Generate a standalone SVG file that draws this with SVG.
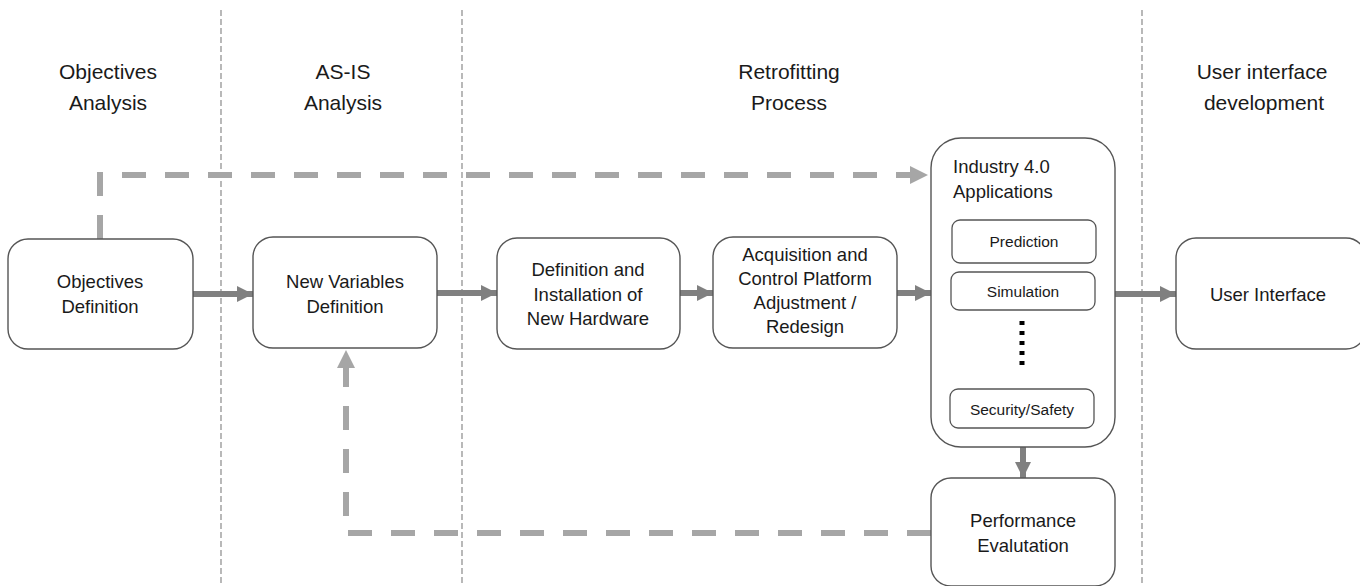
<svg xmlns="http://www.w3.org/2000/svg" width="1360" height="586" viewBox="0 0 1360 586">
<defs>
<style>
.node{fill:#fff;stroke:#555;stroke-width:1.4}
.sub{fill:#fff;stroke:#555;stroke-width:1.3}
.t{font-family:"Liberation Sans",Arial,sans-serif;font-size:18.5px;fill:#1a1a1a;text-anchor:middle}
.h{font-family:"Liberation Sans",Arial,sans-serif;font-size:21px;fill:#1a1a1a;text-anchor:middle}
.s{font-family:"Liberation Sans",Arial,sans-serif;font-size:15.5px;fill:#1a1a1a;text-anchor:middle}
.div{stroke:#8a8a8a;stroke-width:1.2;stroke-dasharray:6 3;fill:none}
.solid{stroke:#808080;stroke-width:6;fill:none}
.dash{stroke:#a6a6a6;stroke-width:6;fill:none;stroke-dasharray:24 19}
</style>
<marker id="ah" markerUnits="userSpaceOnUse" markerWidth="16" markerHeight="16" viewBox="0 0 16 16" refX="16" refY="8" orient="auto">
<path d="M0,0 L16,8 L0,16 Z" fill="#808080"/>
</marker>
<marker id="ahd" markerUnits="userSpaceOnUse" markerWidth="18" markerHeight="18" viewBox="0 0 18 18" refX="18" refY="9" orient="auto">
<path d="M0,0 L18,9 L0,18 Z" fill="#a6a6a6"/>
</marker>
</defs>
<rect width="1360" height="586" fill="#fff"/>
<g id="dividers">
<line class="div" x1="221" y1="10" x2="221" y2="586"/>
<line class="div" x1="462" y1="10" x2="462" y2="586"/>
<line class="div" x1="1142" y1="10" x2="1142" y2="586"/>
</g>
<g id="headers">
<text class="h" x="108" y="79">Objectives</text>
<text class="h" x="108" y="110">Analysis</text>
<text class="h" x="343" y="79">AS-IS</text>
<text class="h" x="343" y="110">Analysis</text>
<text class="h" x="789" y="79">Retrofitting</text>
<text class="h" x="789" y="110">Process</text>
<text class="h" x="1262" y="79">User interface</text>
<text class="h" x="1264" y="110">development</text>
</g>
<g id="connectors">
<line class="solid" x1="193" y1="294" x2="253" y2="294" marker-end="url(#ah)"/>
<line class="solid" x1="437" y1="293" x2="497" y2="293" marker-end="url(#ah)"/>
<line class="solid" x1="680" y1="293" x2="713" y2="293" marker-end="url(#ah)"/>
<line class="solid" x1="897" y1="293" x2="931" y2="293" marker-end="url(#ah)"/>
<line class="solid" x1="1115" y1="294" x2="1176" y2="294" marker-end="url(#ah)"/>
<line class="solid" x1="1023" y1="447" x2="1023" y2="478" marker-end="url(#ah)"/>
<path class="dash" d="M100,239 L100,175 L928,175" marker-end="url(#ahd)" stroke-dashoffset="0"/>
<path class="dash" d="M931,533 L346,533 L346,350" marker-end="url(#ahd)"/>
</g>
<g id="n-objectives">
<rect class="node" x="8" y="239" width="185" height="110" rx="20"/>
<text class="t" x="100" y="288">Objectives</text>
<text class="t" x="100" y="313">Definition</text>
</g>
<g id="n-newvars">
<rect class="node" x="253" y="237" width="184" height="111" rx="20"/>
<text class="t" x="345" y="288">New Variables</text>
<text class="t" x="345" y="313">Definition</text>
</g>
<g id="n-hardware">
<rect class="node" x="497" y="238" width="183" height="111" rx="20"/>
<text class="t" x="588" y="276">Definition and</text>
<text class="t" x="588" y="301">Installation of</text>
<text class="t" x="588" y="325">New Hardware</text>
</g>
<g id="n-acquisition">
<rect class="node" x="713" y="237" width="184" height="111" rx="20"/>
<text class="t" x="805" y="261">Acquisition and</text>
<text class="t" x="805" y="285">Control Platform</text>
<text class="t" x="805" y="309">Adjustment /</text>
<text class="t" x="805" y="333">Redesign</text>
</g>
<g id="n-industry">
<rect class="node" x="931" y="138" width="184" height="309" rx="30"/>
<text class="t" x="953" y="173" style="text-anchor:start">Industry 4.0</text>
<text class="t" x="953" y="198" style="text-anchor:start">Applications</text>
<rect class="sub" x="952" y="220" width="144" height="43" rx="8"/>
<text class="s" x="1024" y="247">Prediction</text>
<rect class="sub" x="951" y="272" width="144" height="38" rx="8"/>
<text class="s" x="1023" y="297">Simulation</text>
<line x1="1022" y1="321" x2="1022" y2="370" stroke="#000" stroke-width="5" stroke-dasharray="4 6"/>
<rect class="sub" x="950" y="389" width="144" height="39" rx="8"/>
<text class="s" x="1022" y="415">Security/Safety</text>
</g>
<g id="n-ui">
<rect class="node" x="1176" y="238" width="190" height="111" rx="20"/>
<text class="t" x="1268" y="301">User Interface</text>
</g>
<g id="n-performance">
<rect class="node" x="931" y="478" width="184" height="108" rx="20"/>
<text class="t" x="1023" y="527">Performance</text>
<text class="t" x="1023" y="552">Evalutation</text>
</g>
</svg>
